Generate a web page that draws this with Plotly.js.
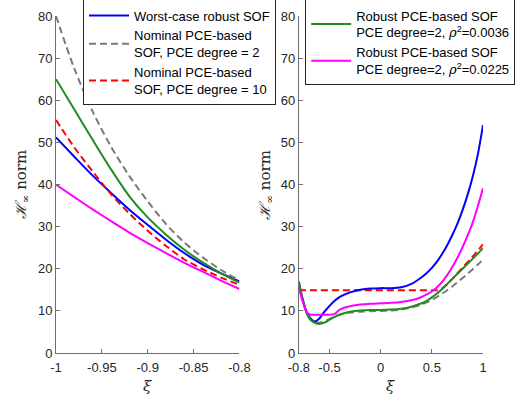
<!DOCTYPE html>
<html>
<head>
<meta charset="utf-8">
<script src="https://cdn.plot.ly/plotly-3.0.1.min.js"></script>
<style>html,body{margin:0;padding:0;background:#fff;}</style>
</head>
<body>
<div id="chart" style="width:515px;height:401px;"></div>
<script>
// ---- Left panel data (xi in [-1, -0.8]) ----
const xiLeft = [-1, -0.98, -0.96, -0.94, -0.92, -0.90, -0.88, -0.86, -0.84, -0.82, -0.80];
const worstCaseLeft   = [51.2, 46.6, 42.1, 38.0, 34.0, 30.4, 26.9, 23.7, 21.0, 18.9, 17.0];
const nominalDeg2Left = [80.0, 67.5, 57.3, 49.0, 42.0, 36.0, 30.6, 26.2, 22.7, 19.7, 17.2];
const nominalDeg10Left= [55.3, 48.8, 43.1, 37.7, 33.1, 29.0, 25.4, 22.2, 19.9, 17.9, 16.2];
const robust0036Left  = [65.0, 57.8, 50.6, 43.6, 37.2, 32.2, 28.1, 24.5, 21.5, 18.9, 16.7];
const robust0225Left  = [40.0, 37.0, 34.1, 31.3, 28.6, 26.1, 23.7, 21.4, 19.3, 17.2, 15.2];

// ---- Right panel data (xi in [-0.8, 1]) ----
const xiRight = [-0.8, -0.76, -0.72, -0.68, -0.64, -0.6, -0.55, -0.5, -0.45, -0.4, -0.35, -0.3, -0.2, -0.1, 0, 0.1, 0.2, 0.3, 0.4, 0.45, 0.5, 0.55, 0.6, 0.65, 0.7, 0.75, 0.8, 0.85, 0.9, 0.95, 1.0];
const worstCaseRight   = [16.6, 12.5, 9.5, 8.0, 7.5, 8.2, 9.8, 11.2, 12.4, 13.3, 13.9, 14.4, 15.0, 15.3, 15.4, 15.4, 15.6, 16.4, 18.0, 19.0, 20.2, 21.7, 23.5, 25.6, 28.0, 30.7, 33.9, 37.6, 41.9, 47.2, 54.1];
const nominalDeg2Right = [16.5, 12.3, 9.3, 7.9, 7.3, 7.2, 7.5, 8.1, 8.7, 9.1, 9.4, 9.6, 9.8, 9.9, 10.0, 10.1, 10.3, 10.8, 11.5, 12.0, 12.6, 13.3, 14.1, 14.9, 15.8, 16.8, 17.8, 18.8, 19.9, 21.0, 22.2];
const robust0036Right  = [17.0, 12.5, 9.2, 7.7, 7.1, 6.9, 7.2, 7.9, 8.6, 9.1, 9.5, 9.8, 10.1, 10.2, 10.2, 10.3, 10.5, 11.0, 11.8, 12.4, 13.2, 14.1, 15.2, 16.4, 17.6, 18.8, 20.0, 21.2, 22.4, 23.6, 24.9];
const robust0225Right  = [15.5, 12.0, 9.6, 9.1, 9.1, 9.1, 9.1, 9.1, 9.3, 10.3, 10.8, 11.1, 11.5, 11.7, 11.8, 11.9, 12.1, 12.5, 13.3, 13.9, 14.6, 15.6, 16.9, 18.5, 20.4, 22.6, 25.1, 27.9, 31.0, 34.9, 39.1];
const xiRedRight = [-0.8, 0.58, 0.65, 0.7, 0.8, 0.9, 1.0];
const nominalDeg10Right = [14.9, 14.9, 16.3, 17.6, 20.2, 22.9, 25.8];

// ---- Tick labels ----
const yTicks = [0, 10, 20, 30, 40, 50, 60, 70, 80];
const xTicksLeft = [-1, -0.95, -0.9, -0.85, -0.8];
const xTickTextLeft = ['-1', '-0.95', '-0.9', '-0.85', '-0.8'];
const xTicksRight = [-0.8, -0.5, 0, 0.5, 1];
const xTickTextRight = ['-0.8', '-0.5', '0', '0.5', '1'];

// ---- Legend labels ----
const nameWorst = 'Worst-case robust SOF';
const nameNom2 = 'Nominal PCE-based<br>SOF, PCE degree = 2';
const nameNom10 = 'Nominal PCE-based<br>SOF, PCE degree = 10';
const nameRob1 = 'Robust PCE-based SOF<br>PCE degree=2, <i style="font-family:\'DejaVu Serif\'">ρ</i><sup>2</sup>=0.0036';
const nameRob2 = 'Robust PCE-based SOF<br>PCE degree=2, <i style="font-family:\'DejaVu Serif\'">ρ</i><sup>2</sup>=0.0225';

const BLUE = '#0000ff', GRAY = '#7a7a7a', RED = '#ff0000', GREEN = '#228b22', MAG = '#ff00ff';
const DASH = '7px,4px';

function tr(x, y, color, dash, name, xa, ya, legend, showlegend) {
  return {
    x: x, y: y, type: 'scatter', mode: 'lines', name: name,
    line: {color: color, width: 2, dash: dash || 'solid', shape: 'spline', smoothing: 0.8},
    xaxis: xa, yaxis: ya, legend: legend, showlegend: showlegend, hoverinfo: 'skip'
  };
}

const data = [
  tr(xiLeft, worstCaseLeft, BLUE, null, nameWorst, 'x', 'y', 'legend', true),
  tr(xiLeft, nominalDeg2Left, GRAY, DASH, nameNom2, 'x', 'y', 'legend', true),
  tr(xiLeft, nominalDeg10Left, RED, DASH, nameNom10, 'x', 'y', 'legend', true),
  tr(xiLeft, robust0225Left, MAG, null, nameRob2, 'x', 'y', 'legend2', false),
  tr(xiLeft, robust0036Left, GREEN, null, nameRob1, 'x', 'y', 'legend2', false),

  tr(xiRight, nominalDeg2Right, GRAY, DASH, nameNom2, 'x2', 'y2', 'legend', false),
  tr(xiRedRight, nominalDeg10Right, RED, DASH, nameNom10, 'x2', 'y2', 'legend', false),
  tr(xiRight, worstCaseRight, BLUE, null, nameWorst, 'x2', 'y2', 'legend', false),
  tr(xiRight, robust0036Right, GREEN, null, nameRob1, 'x2', 'y2', 'legend2', true),
  tr(xiRight, robust0225Right, MAG, null, nameRob2, 'x2', 'y2', 'legend2', true)
];
data[6].line.shape = 'linear';

const AX = '#6e6e6e';
const TICKFONT = {family: 'Liberation Sans, Arial, sans-serif', size: 13, color: '#262626'};
function xax(domain, range, tv, tt, anchor) {
  return {domain: domain, range: range, tickvals: tv, ticktext: tt, ticks: 'inside', ticklen: 4,
    tickcolor: AX, showline: true, linecolor: AX, linewidth: 1, showgrid: false, zeroline: false,
    tickfont: TICKFONT, anchor: anchor, fixedrange: true, automargin: false, ticklabelstandoff: 2};
}
function yax(anchor) {
  return {domain: [0, 1], range: [0, 80], tickvals: yTicks, ticktext: yTicks.map(String), ticks: 'inside', ticklen: 4,
    tickcolor: AX, showline: true, linecolor: AX, linewidth: 1, showgrid: false, zeroline: false,
    tickfont: TICKFONT, anchor: anchor, fixedrange: true, automargin: false};
}

const legendStyle = (x, y) => ({
  x: x, y: y, xanchor: 'left', yanchor: 'top',
  bgcolor: '#ffffff', bordercolor: '#262626', borderwidth: 1,
  font: {family: 'Liberation Sans, Arial, sans-serif', size: 13, color: '#000'},
  tracegroupgap: 2, itemwidth: 40
});

const YTITLE = '<i>ℋ</i><sub>∞</sub> norm';
const titleFont = {family: 'DejaVu Serif, Liberation Serif, serif', size: 15, color: '#262626'};

const layout = {
  width: 515, height: 401,
  margin: {l: 56, r: 32, t: 16, b: 48, pad: 0, autoexpand: false},
  paper_bgcolor: '#fff', plot_bgcolor: '#fff',
  showlegend: true,
  xaxis: xax([0, 0.4296], [-1, -0.8], xTicksLeft, xTickTextLeft, 'y'),
  yaxis: yax('x'),
  xaxis2: xax([0.5688, 1], [-0.8, 1], xTicksRight, xTickTextRight, 'y2'),
  yaxis2: yax('x2'),
  legend: legendStyle(0.0633, 1.049),
  legend2: legendStyle(0.5835, 1.049),
  annotations: [
    {text: YTITLE, xref: 'paper', yref: 'paper', x: -0.080, y: 0.5, textangle: -90, showarrow: false,
     xanchor: 'center', yanchor: 'middle', font: titleFont},
    {text: YTITLE, xref: 'paper', yref: 'paper', x: 0.4898, y: 0.5, textangle: -90, showarrow: false,
     xanchor: 'center', yanchor: 'middle', font: titleFont},
    {text: '<i>ξ</i>', xref: 'paper', yref: 'paper', x: 0.2148, y: -0.099, showarrow: false,
     xanchor: 'center', yanchor: 'middle', font: {family: 'DejaVu Serif, serif', size: 15, color: '#262626'}},
    {text: '<i>ξ</i>', xref: 'paper', yref: 'paper', x: 0.7844, y: -0.099, showarrow: false,
     xanchor: 'center', yanchor: 'middle', font: {family: 'DejaVu Serif, serif', size: 15, color: '#262626'}}
  ]
};

Plotly.newPlot('chart', data, layout, {displayModeBar: false, staticPlot: true});
</script>
</body>
</html>
